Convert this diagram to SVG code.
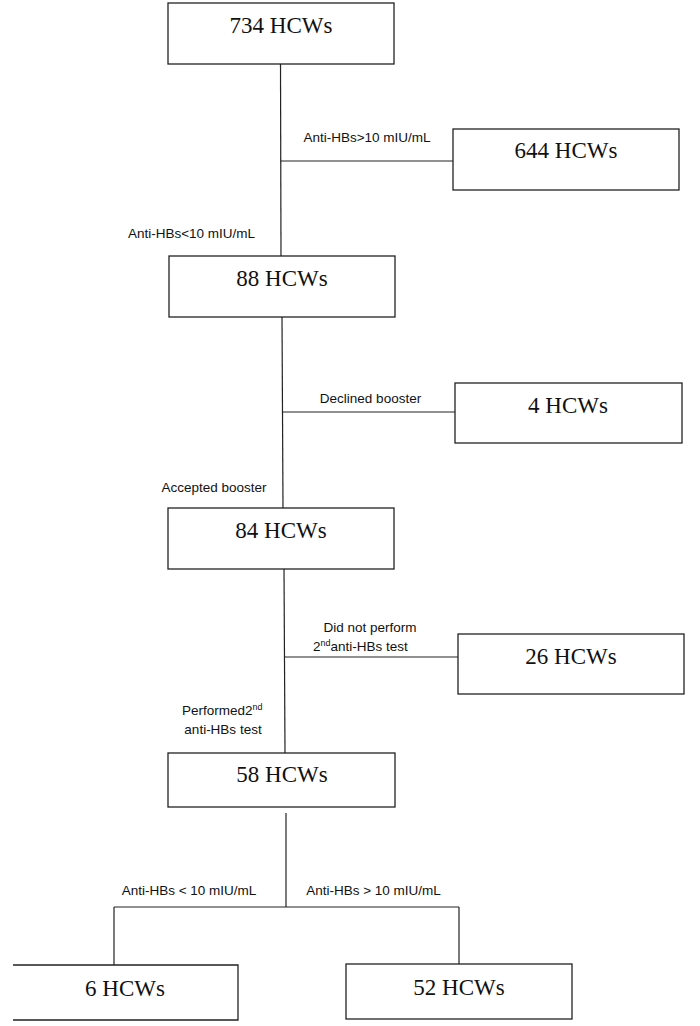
<svg xmlns="http://www.w3.org/2000/svg" width="700" height="1026" viewBox="0 0 700 1026">
<style>
.box{fill:#fff;stroke:#222;stroke-width:1.3}
.n{font-family:"Liberation Serif","Times New Roman",serif;font-size:23px;fill:#111;text-anchor:middle}
.l{font-family:"Liberation Sans",Arial,sans-serif;font-size:13.5px;fill:#111}
.m{text-anchor:middle}
.c{stroke:#222;stroke-width:1.2;fill:none}
</style>
<rect width="700" height="1026" fill="#fff"/>
<g id="connectors">
<line class="c" x1="280.5" y1="64" x2="281" y2="256"/>
<line class="c" x1="281" y1="161" x2="453" y2="161"/>
<line class="c" x1="282" y1="317" x2="283" y2="508"/>
<line class="c" x1="283" y1="412" x2="455" y2="412"/>
<line class="c" x1="284" y1="569" x2="285" y2="753"/>
<line class="c" x1="285" y1="657" x2="458" y2="657"/>
<line class="c" x1="286" y1="813" x2="286" y2="907"/>
<line class="c" x1="114" y1="907" x2="459" y2="907"/>
<line class="c" x1="114" y1="907" x2="114" y2="965"/>
<line class="c" x1="459" y1="907" x2="459" y2="964"/>
<text class="l m" x="367" y="142">Anti-HBs&gt;10 mIU/mL</text>
<text class="l m" x="191.5" y="238">Anti-HBs&lt;10 mIU/mL</text>
<text class="l m" x="370.5" y="403">Declined booster</text>
<text class="l m" x="214" y="492">Accepted booster</text>
<text class="l m" x="370" y="632">Did not perform</text>
<text class="l" x="313" y="651">2<tspan font-size="9" dy="-5">nd</tspan><tspan dy="5">anti-HBs test</tspan></text>
<text class="l" x="182" y="715">Performed2<tspan font-size="9" dy="-5">nd</tspan></text>
<text class="l m" x="223" y="734">anti-HBs test</text>
<text class="l m" x="189" y="895">Anti-HBs &lt; 10 mIU/mL</text>
<text class="l m" x="373.5" y="895">Anti-HBs &gt; 10 mIU/mL</text>
</g>
<g id="n734"><rect class="box" x="168" y="3" width="226" height="61"/><text class="n" x="281" y="33">734 HCWs</text></g>
<g id="n644"><rect class="box" x="453" y="129" width="226" height="61"/><text class="n" x="566" y="158">644 HCWs</text></g>
<g id="n88"><rect class="box" x="169" y="256" width="226" height="61"/><text class="n" x="282" y="286">88 HCWs</text></g>
<g id="n4"><rect class="box" x="455" y="383" width="227" height="60"/><text class="n" x="568" y="413">4 HCWs</text></g>
<g id="n84"><rect class="box" x="168" y="508" width="226" height="61"/><text class="n" x="281" y="538">84 HCWs</text></g>
<g id="n26"><rect class="box" x="458" y="634" width="226" height="60"/><text class="n" x="571" y="664">26 HCWs</text></g>
<g id="n58"><rect class="box" x="168" y="753" width="227" height="54"/><text class="n" x="282" y="782">58 HCWs</text></g>
<g id="n6"><path class="box" d="M13,965 H238 V1020 H13"/><text class="n" x="125" y="996">6 HCWs</text></g>
<g id="n52"><rect class="box" x="346" y="964" width="226" height="55"/><text class="n" x="459" y="995">52 HCWs</text></g>
</svg>
